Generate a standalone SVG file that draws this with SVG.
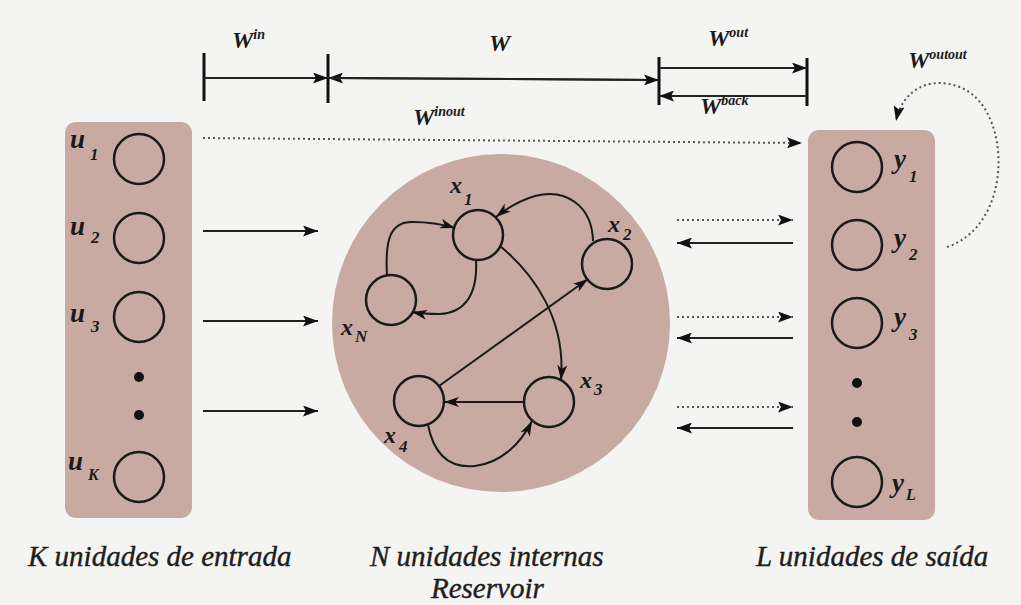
<svg xmlns="http://www.w3.org/2000/svg" width="1021" height="605" viewBox="0 0 1021 605">
<style>
.bg{fill:#f4f4f2}
.panel{fill:#c9aaa2}
.node{fill:none;stroke:#1a1a1a;stroke-width:2.5}
.dot{fill:#111}
.lbl{font-family:"Liberation Serif","Times New Roman",serif;font-style:italic;font-weight:bold;fill:#1a1a1a}
.big{font-family:"Liberation Serif","Times New Roman",serif;font-style:italic;font-size:29px;fill:#1e1e1e;stroke:#1e1e1e;stroke-width:0.4}
.solid{stroke:#222;stroke-width:2;fill:none}
.dotted{stroke:#555;stroke-width:2;stroke-dasharray:2 3;fill:none}
.tick{stroke:#111;stroke-width:3}
.edge{stroke:#1a1a1a;stroke-width:2;fill:none}
</style>
<defs>
<marker id="ah" markerWidth="15" markerHeight="11" refX="15" refY="5.5" orient="auto" markerUnits="userSpaceOnUse"><path d="M0,0 L15,5.5 L0,11 L3,5.5 z" fill="#111"/></marker>
<marker id="ahs" markerWidth="15" markerHeight="10" refX="15" refY="5" orient="auto" markerUnits="userSpaceOnUse"><path d="M0,0 L15,5 L0,10 L4,5 z" fill="#111"/></marker>
</defs>
<rect class="bg" x="0" y="0" width="1021" height="605"/>

<g id="input-layer">
<rect class="panel" x="65" y="122" width="127" height="396" rx="11"/>
<circle class="node" cx="139" cy="159" r="25"/>
<circle class="node" cx="139" cy="238" r="25"/>
<circle class="node" cx="139" cy="317" r="25"/>
<circle class="dot" cx="139" cy="377" r="5"/>
<circle class="dot" cx="139" cy="415" r="5"/>
<circle class="node" cx="139" cy="477" r="25"/>
<text class="lbl" font-size="27" x="70" y="148">u<tspan font-size="17" x="90" y="160">1</tspan></text>
<text class="lbl" font-size="27" x="70" y="235">u<tspan font-size="17" x="91" y="243">2</tspan></text>
<text class="lbl" font-size="27" x="70" y="322">u<tspan font-size="17" x="91" y="332">3</tspan></text>
<text class="lbl" font-size="27" x="68" y="470">u<tspan font-size="16" x="88" y="480">K</tspan></text>
</g>

<g id="reservoir">
<circle class="panel" cx="501" cy="323" r="169"/>
<g id="x1"><circle class="node" cx="478" cy="235" r="25"/><text class="lbl" font-size="24" x="450" y="193">x<tspan font-size="17" x="464" y="205">1</tspan></text></g>
<g id="x2"><circle class="node" cx="607" cy="264" r="25"/><text class="lbl" font-size="24" x="608" y="232">x<tspan font-size="17" x="623" y="240">2</tspan></text></g>
<g id="xN"><circle class="node" cx="391" cy="300" r="25"/><text class="lbl" font-size="24" x="341" y="335">x<tspan font-size="17" x="355" y="342">N</tspan></text></g>
<g id="x3"><circle class="node" cx="549" cy="402" r="25"/><text class="lbl" font-size="24" x="580" y="388">x<tspan font-size="17" x="594" y="395">3</tspan></text></g>
<g id="x4"><circle class="node" cx="419" cy="401" r="25"/><text class="lbl" font-size="24" x="384" y="443">x<tspan font-size="17" x="399" y="452">4</tspan></text></g>
</g>

<g id="output-layer">
<rect class="panel" x="808" y="130" width="127" height="390" rx="11"/>
<circle class="node" cx="857" cy="167" r="25"/>
<circle class="node" cx="857" cy="245" r="25"/>
<circle class="node" cx="857" cy="323" r="25"/>
<circle class="dot" cx="857" cy="383" r="5"/>
<circle class="dot" cx="857" cy="422" r="5"/>
<circle class="node" cx="857" cy="482" r="25"/>
<text class="lbl" font-size="27" x="894" y="168">y<tspan font-size="17" x="909" y="182">1</tspan></text>
<text class="lbl" font-size="27" x="894" y="247">y<tspan font-size="17" x="909" y="260">2</tspan></text>
<text class="lbl" font-size="27" x="894" y="326">y<tspan font-size="17" x="909" y="340">3</tspan></text>
<text class="lbl" font-size="27" x="892" y="492">y<tspan font-size="16" x="906" y="500">L</tspan></text>
</g>

<g id="connectors">
<line class="tick" x1="204" y1="53" x2="204" y2="101"/>
<line class="tick" x1="328" y1="54" x2="328" y2="103"/>
<line class="tick" x1="659" y1="57" x2="659" y2="105"/>
<line class="tick" x1="807" y1="58" x2="807" y2="106"/>
<line class="solid" x1="204" y1="78" x2="328" y2="78" marker-end="url(#ah)"/>
<line class="solid" x1="657" y1="80" x2="328" y2="78" marker-end="url(#ah)"/>
<line class="solid" x1="330" y1="78" x2="659" y2="80" marker-end="url(#ah)"/>
<line class="solid" x1="659" y1="68" x2="807" y2="68" marker-end="url(#ah)"/>
<line class="solid" x1="807" y1="96" x2="659" y2="96" marker-end="url(#ah)"/>
<line class="solid" x1="203" y1="231" x2="318" y2="231" marker-end="url(#ah)"/>
<line class="solid" x1="203" y1="321" x2="318" y2="321" marker-end="url(#ah)"/>
<line class="solid" x1="203" y1="411" x2="318" y2="411" marker-end="url(#ah)"/>
<line class="dotted" x1="203" y1="138" x2="802" y2="143" marker-end="url(#ah)"/>
<line class="dotted" x1="677" y1="220" x2="793" y2="220" marker-end="url(#ah)"/>
<line class="solid" x1="793" y1="243" x2="677" y2="243" marker-end="url(#ah)"/>
<line class="dotted" x1="677" y1="317" x2="793" y2="317" marker-end="url(#ah)"/>
<line class="solid" x1="793" y1="338" x2="677" y2="338" marker-end="url(#ah)"/>
<line class="dotted" x1="677" y1="407" x2="793" y2="407" marker-end="url(#ah)"/>
<line class="solid" x1="793" y1="428" x2="677" y2="428" marker-end="url(#ah)"/>
<path class="dotted" d="M947,247 C1014,225 1012,110 962,88 C932,75 903,88 896,121" marker-end="url(#ah)"/>
<path class="edge" d="M387,275 C385,240 390,222 412,222 C430,222 442,224 455,228" marker-end="url(#ahs)"/>
<path class="edge" d="M476,260 C478,298 462,313 440,314 C430,314 422,314 412,312" marker-end="url(#ahs)"/>
<path class="edge" d="M593,241 C592,205 565,188 535,196 C518,201 506,209 496,217" marker-end="url(#ahs)"/>
<path class="edge" d="M500,246 C535,275 566,320 561,380" marker-end="url(#ahs)"/>
<line class="edge" x1="439" y1="386" x2="588" y2="279" marker-end="url(#ahs)"/>
<line class="edge" x1="524" y1="402" x2="444" y2="402" marker-end="url(#ahs)"/>
<path class="edge" d="M428,425 C435,460 455,468 475,466 C500,463 520,445 532,421" marker-end="url(#ahs)"/>
</g>

<g id="weight-labels">
<text class="lbl" font-size="24" x="232" y="48">W<tspan font-size="14" dy="-9">in</tspan></text>
<text class="lbl" font-size="24" x="489" y="51">W</text>
<text class="lbl" font-size="24" x="708" y="46">W<tspan font-size="14" dy="-9">out</tspan></text>
<text class="lbl" font-size="24" x="700" y="114">W<tspan font-size="14" dy="-9">back</tspan></text>
<text class="lbl" font-size="24" x="413" y="125">W<tspan font-size="14" dy="-9">inout</tspan></text>
<text class="lbl" font-size="24" x="908" y="68">W<tspan font-size="14" dy="-9">outout</tspan></text>
</g>

<g id="captions">
<text class="big" x="28" y="566">K unidades de entrada</text>
<text class="big" x="370" y="566">N unidades internas</text>
<text class="big" x="431" y="598">Reservoir</text>
<text class="big" x="756" y="566">L unidades de saída</text>
</g>
</svg>
